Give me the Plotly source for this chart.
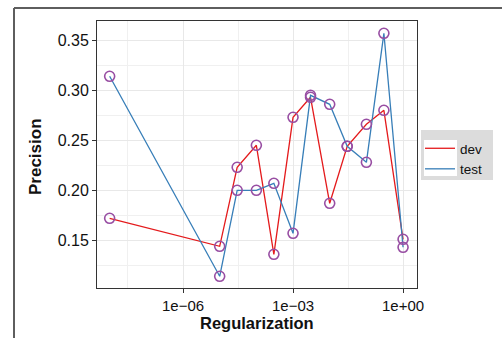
import plotly.graph_objects as go

# Regularization strength and precision on dev / test sets
regularization = [1e-8, 1e-5, 3e-5, 1e-4, 3e-4, 1e-3, 3e-3, 1e-2, 3e-2, 1e-1, 3e-1, 1.0]
dev_precision = [0.172, 0.144, 0.223, 0.245, 0.136, 0.273, 0.293, 0.187, 0.244, 0.266, 0.280, 0.151]
test_precision = [0.314, 0.114, 0.200, 0.200, 0.207, 0.157, 0.295, 0.286, 0.244, 0.228, 0.357, 0.143]

x_tickvals = [1e-6, 1e-3, 1.0]
x_ticktext = ["1e\u221206", "1e\u221203", "1e+00"]
x_minor = [10 ** -7.5, 10 ** -4.5, 10 ** -1.5]
y_tickvals = [0.15, 0.20, 0.25, 0.30, 0.35]
y_ticktext = ["0.15", "0.20", "0.25", "0.30", "0.35"]
y_minor = [0.125, 0.175, 0.225, 0.275, 0.325]

RED = "#E41A1C"
BLUE = "#377EB8"
PURPLE = "#984EA3"
FONT = "Liberation Sans, Arial, sans-serif"

W, H = 502, 338
ML, MR, MT, MB = 97, 85, 21, 50
PW, PH = W - ML - MR, H - MT - MB


def px(x):
    return (x - ML) / PW


def py(y):
    return 1 - (y - MT) / PH


fig = go.Figure()
for name, vals, col in [("dev", dev_precision, RED), ("test", test_precision, BLUE)]:
    fig.add_trace(go.Scatter(x=regularization, y=vals, mode="lines", name=name,
                             line=dict(color=col, width=1.3)))
for vals in [dev_precision, test_precision]:
    fig.add_trace(go.Scatter(x=regularization, y=vals, mode="markers", showlegend=False,
                             marker=dict(symbol="circle-open", color=PURPLE, size=10,
                                         line=dict(width=1.6, color=PURPLE))))

axis_common = dict(
    showgrid=True, gridcolor="#E8E8E8", gridwidth=1,
    showline=True, linecolor="#333333", linewidth=1, mirror=True,
    ticks="outside", ticklen=4, tickcolor="#333333", tickwidth=1,
    zeroline=False,
)

fig.update_xaxes(type="log", range=[-8.345, 0.38], tickmode="array",
                 tickvals=x_tickvals, ticktext=x_ticktext,
                 tickfont=dict(family=FONT, size=15, color="#111111"),
                 minor=dict(tickvals=x_minor, showgrid=True, gridcolor="#F0F0F0", ticks=""),
                 **axis_common)
fig.update_yaxes(range=[0.1023, 0.3693], tickmode="array",
                 tickvals=y_tickvals, ticktext=y_ticktext,
                 tickfont=dict(family=FONT, size=16, color="#111111"),
                 minor=dict(tickvals=y_minor, showgrid=True, gridcolor="#F0F0F0", ticks=""),
                 **axis_common)

shapes = [
    # outer frame
    dict(type="line", xref="paper", yref="paper", x0=px(14), x1=px(W + 5), y0=py(8), y1=py(8),
         line=dict(color="#5E5E5E", width=2)),
    dict(type="line", xref="paper", yref="paper", x0=px(14), x1=px(14), y0=py(8), y1=py(H + 5),
         line=dict(color="#5E5E5E", width=2)),
    # legend box and key area
    dict(type="rect", xref="paper", yref="paper", x0=px(421), x1=px(493), y0=py(130), y1=py(180),
         fillcolor="#DCDCDC", line=dict(width=0), layer="above"),
    dict(type="rect", xref="paper", yref="paper", x0=px(424), x1=px(457), y0=py(140), y1=py(176),
         fillcolor="#FFFFFF", line=dict(width=0), layer="above"),
]

annotations = [
    dict(text="<b>Precision</b>", xref="paper", yref="paper", x=px(35), y=py(157),
         textangle=-90, showarrow=False, xanchor="center", yanchor="middle",
         font=dict(family=FONT, size=17, color="#111111")),
    dict(text="<b>Regularization</b>", xref="paper", yref="paper", x=px(257), y=py(323),
         showarrow=False, xanchor="center", yanchor="middle",
         font=dict(family=FONT, size=16.5, color="#111111")),
]

fig.update_layout(
    width=W, height=H,
    margin=dict(l=ML, r=MR, t=MT, b=MB, autoexpand=False),
    paper_bgcolor="white", plot_bgcolor="white",
    shapes=shapes, annotations=annotations,
    legend=dict(x=px(420), y=py(133), xanchor="left", yanchor="top",
                bgcolor="rgba(0,0,0,0)", borderwidth=0,
                font=dict(family=FONT, size=13.5, color="#111111"),
                tracegroupgap=0, itemwidth=30),
    showlegend=True,
)

fig.write_html("out.html")
